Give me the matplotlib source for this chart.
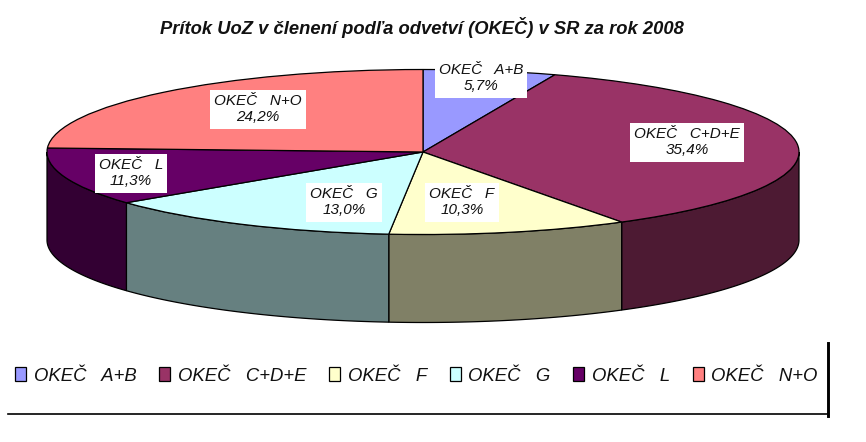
import numpy as np
import matplotlib
matplotlib.use("Agg")
import matplotlib.pyplot as plt

categories = ["OKEČ   A+B", "OKEČ   C+D+E", "OKEČ   F", "OKEČ   G", "OKEČ   L", "OKEČ   N+O"]
values = [5.7, 35.4, 10.3, 13.0, 11.3, 24.2]
value_labels = ["5,7%", "35,4%", "10,3%", "13,0%", "11,3%", "24,2%"]
top_colors = ["#9999FF", "#993366", "#FFFFCC", "#CCFFFF", "#660066", "#FF8080"]
title = "Prítok UoZ v členení podľa odvetví (OKEČ) v SR za rok 2008"

plt.rcParams["font.family"] = ["Liberation Sans", "DejaVu Sans"]
W, H = 866, 442
CX, CY, RX, RY, DEPTH = 423.0, 152.0, 376.0, 82.5, 88.0

fig = plt.figure(figsize=(W / 100, H / 100), dpi=100)
ax = fig.add_axes([0, 0, 1, 1])

def px(x, y):
    return (x - CX) / RX, (CY - y) / RY

def shade(c):
    r = matplotlib.colors.to_rgb(c)
    return tuple(v * 0.5 for v in r)

d = DEPTH / RY
edges = np.concatenate([[0], np.cumsum(values)]) / sum(values) * 360
for i, col in enumerate(top_colors):
    a0, a1 = max(edges[i], 90), min(edges[i + 1], 270)
    if a1 <= a0:
        continue
    th = np.radians(np.linspace(a0, a1, 80))
    xs, ys = np.sin(th), np.cos(th)
    ax.fill(np.r_[xs, xs[::-1]], np.r_[ys, ys[::-1] - d], fc=shade(col),
            ec="black", lw=0.9, zorder=1, joinstyle="miter")

wedges, _ = ax.pie(values, colors=top_colors, startangle=90, counterclock=False,
                   wedgeprops=dict(edgecolor="black", linewidth=0.9, zorder=2))
ax.set_aspect("auto")
ax.set_xlim(px(0, 0)[0], px(W, 0)[0])
ax.set_ylim(px(0, H)[1], px(0, 0)[1])
ax.set_axis_off()

label_pos = [(481, 78), (687, 142), (462, 202), (344, 202), (131, 173), (258, 109)]
for cat, vl, (lx, ly) in zip(categories, value_labels, label_pos):
    x, y = px(lx, ly)
    ax.text(x, y, f"{cat}\n{vl}", ha="center", va="center", fontsize=11.0, style="italic",
            linespacing=1.25, zorder=5, color="#111111",
            bbox=dict(fc="white", ec="none", pad=3.0))

fig.text(422 / W, 1 - 27 / H, title, ha="center", va="center", fontsize=13.2,
         style="italic", weight="bold", color="#111111")

leg = fig.legend(wedges, categories, loc="center left", bbox_to_anchor=(15 / W, 1 - 376 / H),
                 ncol=6, frameon=False, handlelength=0.6, handleheight=0.8,
                 handletextpad=0.42, columnspacing=1.22, prop=dict(style="italic", size=13.3),
                 borderpad=0, borderaxespad=0)
for t in leg.get_texts():
    t.set_color("#111111")

fig.add_artist(plt.Line2D([8 / W, 827 / W], [1 - 414 / H] * 2, color="black", lw=1.2))
fig.add_artist(plt.Line2D([827.5 / W, 827.5 / W], [1 - 343 / H, 1 - 416 / H], color="black", lw=2.1))

fig.savefig("out.png", dpi=100)
